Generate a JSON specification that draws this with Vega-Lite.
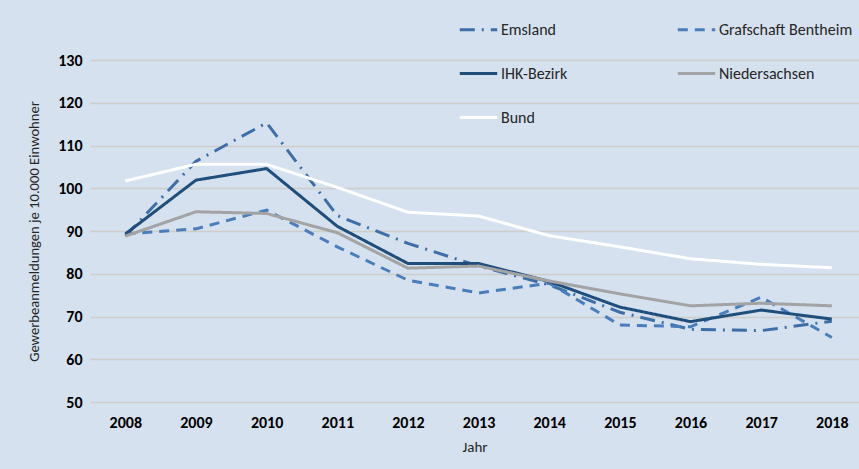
{
  "$schema": "https://vega.github.io/schema/vega-lite/v6.json",
  "width": 769,
  "height": 342,
  "autosize": {"type": "none"},
  "padding": {"left": 90, "top": 60, "right": 0, "bottom": 67},
  "background": "#d5e1ee",
  "config": {
    "view": {"stroke": null},
    "font": "Carlito, Lato, sans-serif"
  },
  "data": {
    "values": [
      {"Region": "Emsland", "Jahr": 2008, "Wert": 88.8},
      {"Region": "Emsland", "Jahr": 2009, "Wert": 106.3},
      {"Region": "Emsland", "Jahr": 2010, "Wert": 115.3},
      {"Region": "Emsland", "Jahr": 2011, "Wert": 93.6},
      {"Region": "Emsland", "Jahr": 2012, "Wert": 87.1},
      {"Region": "Emsland", "Jahr": 2013, "Wert": 81.8},
      {"Region": "Emsland", "Jahr": 2014, "Wert": 77.4},
      {"Region": "Emsland", "Jahr": 2015, "Wert": 71.0},
      {"Region": "Emsland", "Jahr": 2016, "Wert": 67.0},
      {"Region": "Emsland", "Jahr": 2017, "Wert": 66.7},
      {"Region": "Emsland", "Jahr": 2018, "Wert": 68.9},
      {"Region": "Grafschaft Bentheim", "Jahr": 2008, "Wert": 89.3},
      {"Region": "Grafschaft Bentheim", "Jahr": 2009, "Wert": 90.5},
      {"Region": "Grafschaft Bentheim", "Jahr": 2010, "Wert": 94.9},
      {"Region": "Grafschaft Bentheim", "Jahr": 2011, "Wert": 86.3},
      {"Region": "Grafschaft Bentheim", "Jahr": 2012, "Wert": 78.5},
      {"Region": "Grafschaft Bentheim", "Jahr": 2013, "Wert": 75.5},
      {"Region": "Grafschaft Bentheim", "Jahr": 2014, "Wert": 77.8},
      {"Region": "Grafschaft Bentheim", "Jahr": 2015, "Wert": 68.0},
      {"Region": "Grafschaft Bentheim", "Jahr": 2016, "Wert": 67.6},
      {"Region": "Grafschaft Bentheim", "Jahr": 2017, "Wert": 74.5},
      {"Region": "Grafschaft Bentheim", "Jahr": 2018, "Wert": 65.1},
      {"Region": "IHK-Bezirk", "Jahr": 2008, "Wert": 89.3},
      {"Region": "IHK-Bezirk", "Jahr": 2009, "Wert": 101.9},
      {"Region": "IHK-Bezirk", "Jahr": 2010, "Wert": 104.6},
      {"Region": "IHK-Bezirk", "Jahr": 2011, "Wert": 91.1},
      {"Region": "IHK-Bezirk", "Jahr": 2012, "Wert": 82.4},
      {"Region": "IHK-Bezirk", "Jahr": 2013, "Wert": 82.4},
      {"Region": "IHK-Bezirk", "Jahr": 2014, "Wert": 78.2},
      {"Region": "IHK-Bezirk", "Jahr": 2015, "Wert": 72.2},
      {"Region": "IHK-Bezirk", "Jahr": 2016, "Wert": 68.8},
      {"Region": "IHK-Bezirk", "Jahr": 2017, "Wert": 71.5},
      {"Region": "IHK-Bezirk", "Jahr": 2018, "Wert": 69.4},
      {"Region": "Niedersachsen", "Jahr": 2008, "Wert": 88.8},
      {"Region": "Niedersachsen", "Jahr": 2009, "Wert": 94.5},
      {"Region": "Niedersachsen", "Jahr": 2010, "Wert": 94.1},
      {"Region": "Niedersachsen", "Jahr": 2011, "Wert": 89.6},
      {"Region": "Niedersachsen", "Jahr": 2012, "Wert": 81.3},
      {"Region": "Niedersachsen", "Jahr": 2013, "Wert": 81.8},
      {"Region": "Niedersachsen", "Jahr": 2014, "Wert": 78.3},
      {"Region": "Niedersachsen", "Jahr": 2015, "Wert": 75.3},
      {"Region": "Niedersachsen", "Jahr": 2016, "Wert": 72.5},
      {"Region": "Niedersachsen", "Jahr": 2017, "Wert": 73.1},
      {"Region": "Niedersachsen", "Jahr": 2018, "Wert": 72.5},
      {"Region": "Bund", "Jahr": 2008, "Wert": 101.7},
      {"Region": "Bund", "Jahr": 2009, "Wert": 105.6},
      {"Region": "Bund", "Jahr": 2010, "Wert": 105.6},
      {"Region": "Bund", "Jahr": 2011, "Wert": 100.2},
      {"Region": "Bund", "Jahr": 2012, "Wert": 94.4},
      {"Region": "Bund", "Jahr": 2013, "Wert": 93.5},
      {"Region": "Bund", "Jahr": 2014, "Wert": 88.9},
      {"Region": "Bund", "Jahr": 2015, "Wert": 86.3},
      {"Region": "Bund", "Jahr": 2016, "Wert": 83.5},
      {"Region": "Bund", "Jahr": 2017, "Wert": 82.2},
      {"Region": "Bund", "Jahr": 2018, "Wert": 81.4}
    ]
  },
  "mark": {"type": "line", "strokeWidth": 3},
  "encoding": {
    "x": {
      "field": "Jahr",
      "type": "quantitative",
      "scale": {"domain": [2007.5, 2018.385], "nice": false, "zero": false},
      "axis": {
        "values": [2008, 2009, 2010, 2011, 2012, 2013, 2014, 2015, 2016, 2017, 2018],
        "format": "d",
        "grid": false,
        "domain": false,
        "ticks": false,
        "labelFontSize": 16,
        "labelFontWeight": "bold",
        "labelColor": "#000000",
        "labelPadding": 12,
        "title": "Jahr",
        "titleFontSize": 15,
        "titleFontWeight": "normal",
        "titleColor": "#262626",
        "titlePadding": 9
      }
    },
    "y": {
      "field": "Wert",
      "type": "quantitative",
      "scale": {"domain": [50, 130], "nice": false, "zero": false},
      "axis": {
        "values": [50, 60, 70, 80, 90, 100, 110, 120, 130],
        "grid": true,
        "gridColor": "#cfcdca",
        "gridWidth": 1.5,
        "domain": false,
        "ticks": false,
        "labelFontSize": 16,
        "labelFontWeight": "bold",
        "labelColor": "#000000",
        "labelPadding": 8,
        "title": "Gewerbeanmeldungen je 10.000 Einwohner",
        "titleFontSize": 14.6,
        "titleFontWeight": "normal",
        "titleColor": "#262626",
        "titlePadding": 16
      }
    },
    "color": {
      "field": "Region",
      "type": "nominal",
      "scale": {
        "domain": ["Emsland", "IHK-Bezirk", "Bund", "Grafschaft Bentheim", "Niedersachsen"],
        "range": ["#3e6ea7", "#1f4e7d", "#ffffff", "#4a7dbb", "#a3a3a3"]
      },
      "legend": {
        "title": null,
        "orient": "none",
        "legendX": 368,
        "legendY": -51,
        "columns": 2,
        "columnPadding": 103,
        "rowPadding": 15,
        "symbolType": "stroke",
        "symbolSize": 1400,
        "symbolStrokeWidth": 3,
        "labelFontSize": 16,
        "labelColor": "#262626",
        "labelOffset": 2,
        "labelLimit": 300
      }
    },
    "strokeDash": {
      "field": "Region",
      "type": "nominal",
      "scale": {
        "domain": ["Emsland", "IHK-Bezirk", "Bund", "Grafschaft Bentheim", "Niedersachsen"],
        "range": [[15, 7, 2, 7], [1, 0], [1, 0], [10, 7], [1, 0]]
      },
      "legend": {
        "title": null,
        "orient": "none",
        "legendX": 368,
        "legendY": -51,
        "columns": 2,
        "columnPadding": 103,
        "rowPadding": 15,
        "symbolType": "stroke",
        "symbolSize": 1400,
        "symbolStrokeWidth": 3,
        "labelFontSize": 16,
        "labelColor": "#262626",
        "labelOffset": 2,
        "labelLimit": 300
      }
    }
  }
}
